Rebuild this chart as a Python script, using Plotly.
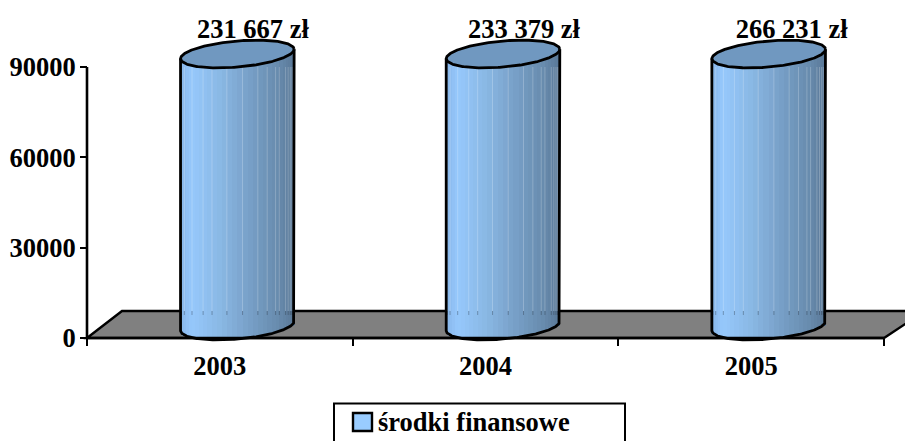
import math
import plotly.graph_objects as go

categories = ["2003", "2004", "2005"]
series_name = "środki finansowe"
values = [231667, 233379, 266231]
value_labels = ["231 667 zł", "233 379 zł", "266 231 zł"]
y_ticks = [0, 30000, 60000, 90000]
axis_max = 90000

W, H = 905, 441
L, R, T, B = 87, 884, 67, 338
PX_X = (R - L) / 3
PX_Y = (B - T) / axis_max
FONT = "Liberation Serif"
FS = 26.5


def dx(px):
    return px / PX_X


def dy(px):
    return px / PX_Y


def page_x(p):
    return -0.5 + dx(p - L)


def page_y(p):
    return dy(B - p)


DEPTH_X, DEPTH_Y = 17.5, 12
TOP_LIFT = 13
FLOOR_BACK = 27
A, Bb, TILT = 57.0, 13.0, math.radians(5)
HALF = math.sqrt((A * math.cos(TILT)) ** 2 + (Bb * math.sin(TILT)) ** 2)
N = 34
SEAMS = [2, 4, 7, 10, 12, 15, 18, 21, 23, 25, 26, 28, 29, 30, 31, 32]
cat_x = [0, 1, 2]


def ellipse_pts(n=240):
    pts = []
    for i in range(n + 1):
        t = 2 * math.pi * i / n
        ex = A * math.cos(t) * math.cos(TILT) + Bb * math.sin(t) * math.sin(TILT)
        ey = A * math.cos(t) * math.sin(TILT) - Bb * math.sin(t) * math.cos(TILT)
        pts.append((ex, ey))
    return pts


EL = ellipse_pts()
I_R = max(range(len(EL)), key=lambda i: EL[i][0])
I_L = min(range(len(EL)), key=lambda i: EL[i][0])
LOWER = EL[I_R:I_L + 1]


def edges(px):
    near = [p[1] for p in EL if abs(p[0] - px) < 2.5]
    return min(near), max(near)


def colour(f):
    stops = [(0, (135, 181, 232)), (0.1, (150, 200, 252)), (0.35, (138, 184, 228)),
             (0.6, (120, 160, 200)), (0.85, (104, 140, 174)), (1, (90, 120, 152))]
    for (a, ca), (b, cb) in zip(stops, stops[1:]):
        if f <= b:
            u = (f - a) / (b - a)
            return "rgb(%d,%d,%d)" % tuple(round(p + (q - p) * u) for p, q in zip(ca, cb))
    return "rgb(90,120,152)"


bx, bw, bb, bh, bc = [], [], [], [], []
for cx, v in zip(cat_x, values):
    clipped = min(v, axis_max)
    for i in range(N):
        p0 = -HALF * math.cos(math.pi * i / N)
        p1 = -HALF * math.cos(math.pi * (i + 1) / N)
        mid = (p0 + p1) / 2
        lo, hi = edges(mid)
        low = lo + DEPTH_Y
        top = clipped + dy(TOP_LIFT + (lo + hi) / 2)
        bx.append(cx + dx(DEPTH_X + mid))
        bw.append(dx(p1 - p0))
        bb.append(dy(low))
        bh.append(top - dy(low))
        bc.append(colour((mid + HALF) / (2 * HALF)))

fig = go.Figure()
fig.add_trace(go.Bar(x=bx, y=bh, base=bb, width=bw, marker=dict(color=bc, line=dict(width=0)),
                     showlegend=False, hoverinfo="skip", name=series_name))

# faint seams between the facets, as in the reference
light_x, light_y, dark_x, dark_y = [], [], [], []
for cx, v in zip(cat_x, values):
    clipped = min(v, axis_max)
    for i in SEAMS:
        p = -HALF * math.cos(math.pi * i / N)
        x = cx + dx(DEPTH_X + p)
        light_x += [x, x, None]
        light_y += [clipped, dy(FLOOR_BACK), None]
        dark_x += [x, x, None]
        dark_y += [dy(FLOOR_BACK), dy(FLOOR_BACK - 4), None]
fig.add_trace(go.Scatter(x=light_x, y=light_y, mode="lines", line=dict(color="rgba(255,255,255,0.22)", width=1),
                         showlegend=False, hoverinfo="skip"))
fig.add_trace(go.Scatter(x=dark_x, y=dark_y, mode="lines", line=dict(color="rgba(40,50,60,0.35)", width=1),
                         showlegend=False, hoverinfo="skip"))

line = dict(color="black", width=2.8)
for cx, v in zip(cat_x, values):
    clipped = min(v, axis_max)
    top_c = clipped + dy(TOP_LIFT)
    xs = [cx + dx(DEPTH_X + p[0]) for p in EL]
    ys = [top_c + dy(p[1]) for p in EL]
    fig.add_trace(go.Scatter(x=xs, y=ys, mode="lines", fill="toself", fillcolor="#7098C0", line=line,
                             showlegend=False, hoverinfo="skip"))
    ox = [cx + dx(DEPTH_X + EL[I_R][0])] + [cx + dx(DEPTH_X + p[0]) for p in LOWER] + [cx + dx(DEPTH_X + EL[I_L][0])]
    oy = [top_c + dy(EL[I_R][1])] + [dy(DEPTH_Y + p[1]) for p in LOWER] + [top_c + dy(EL[I_L][1])]
    fig.add_trace(go.Scatter(x=ox, y=oy, mode="lines", line=line, showlegend=False, hoverinfo="skip"))

label_shift = [33, 38.5, 40.5]
fig.add_trace(go.Scatter(
    x=[c + dx(s) for c, s in zip(cat_x, label_shift)],
    y=[min(v, axis_max) + dy(36) for v in values],
    mode="text", text=value_labels, cliponaxis=False, showlegend=False, hoverinfo="skip",
    textfont=dict(family=FONT, size=FS, color="black", weight="bold"),
))


def px_x(p):
    return p / W


def px_y(p):
    return (H - p) / H


floor = [(87, 338), (122, 311), (925, 311), (884, 338)]
path = "M" + " L".join(f"{page_x(a):.5f},{page_y(b):.2f}" for a, b in floor) + " Z"
axis_line = dict(color="black", width=2.6)
shapes = [
    dict(type="path", xref="x", yref="y", path=path, fillcolor="#808080",
         line=dict(color="black", width=2.4), layer="below"),
    dict(type="line", xref="x", yref="y", x0=-0.5, x1=2.5, y0=0, y1=0, line=axis_line),
    dict(type="line", xref="x", yref="y", x0=-0.5, x1=-0.5, y0=0, y1=axis_max, line=axis_line),
    dict(type="rect", xref="paper", yref="paper", x0=px_x(334), x1=px_x(625), y0=px_y(403.5), y1=px_y(450),
         line=dict(color="black", width=2), fillcolor="white"),
    dict(type="rect", xref="paper", yref="paper", x0=px_x(353), x1=px_x(372), y0=px_y(413), y1=px_y(431),
         line=dict(color="black", width=2.4), fillcolor="#99CCFF"),
]

fig.update_layout(
    width=W, height=H, margin=dict(l=0, r=0, t=0, b=0, autoexpand=False),
    paper_bgcolor="white", plot_bgcolor="white", barmode="overlay", bargap=0, showlegend=False,
    shapes=shapes,
    annotations=[dict(text="<b>" + series_name + "</b>", xref="paper", yref="paper", x=px_x(375.5), y=px_y(422),
                      xanchor="left", yanchor="middle", showarrow=False,
                      font=dict(family=FONT, size=FS, color="black"))],
    xaxis=dict(range=[page_x(0), page_x(W)], anchor="free", position=px_y(B), tickmode="array",
               tickvals=cat_x, ticktext=categories, ticks="",
               showgrid=False, zeroline=False, showline=False, ticklabelstandoff=9,
               tickfont=dict(family=FONT, size=FS, color="black", weight="bold"),
               minor=dict(tickmode="array", tickvals=[-0.5, 0.5, 1.5, 2.5], ticks="outside", ticklen=7,
                          tickwidth=2.2, tickcolor="black", showgrid=False)),
    yaxis=dict(range=[page_y(H), page_y(0)], anchor="free", position=px_x(L), tickmode="array",
               tickvals=y_ticks, ticktext=[str(t) for t in y_ticks],
               ticks="outside", ticklen=7, tickwidth=2.2, tickcolor="black", showgrid=False, zeroline=False,
               showline=False, ticklabelstandoff=-1,
               tickfont=dict(family=FONT, size=FS, color="black", weight="bold")),
)
fig.write_html("out.html", config={"displayModeBar": False},
               post_script="document.body.style.margin='0';document.documentElement.style.overflow='hidden';")
